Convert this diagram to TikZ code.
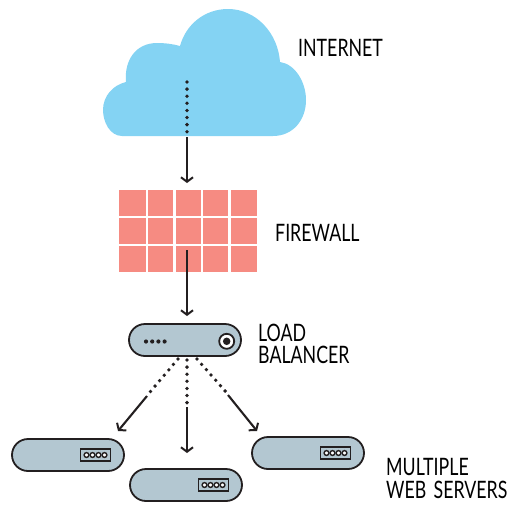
\documentclass[tikz,border=0pt]{standalone}
\usepackage{fontspec}
\setmainfont{Lato}[FakeStretch=0.74,WordSpace=1.6]
\usetikzlibrary{arrows.meta,shapes.misc}
\definecolor{cloudblue}{HTML}{84D3F3}
\definecolor{brickred}{HTML}{F68B82}
\definecolor{boxgrey}{HTML}{B3C7D1}
\definecolor{inkdark}{HTML}{231F20}
\tikzset{
    server/.style={rounded rectangle, draw=inkdark, fill=boxgrey, line width=1.8pt, minimum width=112pt, minimum height=32pt, inner sep=0pt},
    port/.style={draw=inkdark, fill=boxgrey, line width=1.6pt, minimum width=30pt, minimum height=12.5pt, inner sep=0pt},
    portdot/.style={circle, draw=inkdark, fill=white, line width=1.4pt, minimum size=4.8pt, inner sep=0pt},
    lbdot/.style={circle, fill=inkdark, minimum size=4.2pt, inner sep=0pt},
    dotline/.style={inkdark, line width=3.8pt, line cap=round, dash pattern=on 0pt off 7.1pt},
    solidline/.style={inkdark, line width=2.1pt, -{Straight Barb[length=4.5pt,width=12pt,line width=2pt]}},
    label/.style={inner sep=0pt, anchor=base west, align=left, font=\fontsize{24}{24}\selectfont, text=black}
}
\begin{document}
\begin{tikzpicture}[x=1pt,y=-1pt]
    \useasboundingbox (0,0) rectangle (516,512);

    % cloud
    \fill[cloudblue] (122,136) .. controls (110,136) and (103,122) .. (103,110)
        .. controls (103,96) and (113,85) .. (126,82)
        .. controls (124,60) and (136,43) .. (157,43)
        .. controls (165,43) and (173,44) .. (180,46)
        .. controls (186,24) and (205,9) .. (228,9)
        .. controls (256,9) and (278,33) .. (280,62)
        .. controls (295,64) and (306,82) .. (306,100)
        .. controls (306,120) and (293,136) .. (273,136) -- cycle;

    % firewall
    \foreach \bx/\bw in {119/27, 148/25.3, 175.5/25.2, 203/25.3, 230.7/26}
        \foreach \by in {190, 218, 246}
            \fill[brickred] (\bx,\by) rectangle ++(\bw,25.6);

    \coordinate (C1) at (187,82);
    \coordinate (C2) at (187,133);
    \coordinate (C3) at (187,137);
    \coordinate (C4) at (187,183);
    \coordinate (F1) at (187,250);
    \coordinate (F2) at (187,316);

    % load balancer
    \node[server] (lb) at (185,340) {};
    \node[circle, draw=inkdark, fill=white, line width=1.8pt, minimum size=15pt, inner sep=0pt] (lbring) at (226.7,341.3) {};
    \node[circle, fill=inkdark, minimum size=7.5pt, inner sep=0pt] (lbcore) at (lbring) {};
    \foreach \dx in {146,152.2,158.4,164.6}
        \node[lbdot] at (\dx,341.5) {};

    % web servers
    \foreach \name/\sx/\sy in {webleft/68/455, webmid/186/485, webright/308/453} {
        \node[server] (\name) at (\sx,\sy) {};
        \node[port] (\name port) at (\sx+27.5,\sy) {};
        \foreach \dx in {-9,-3,3,9}
            \node[portdot] at (\sx+27.5+\dx,\sy) {};
    }

    \coordinate (L1) at (178,359);
    \coordinate (L2) at (150,392);
    \coordinate (L3) at (147,396);
    \coordinate (L4) at (118,431);
    \coordinate (M1) at (187,360);
    \coordinate (M2) at (187,404);
    \coordinate (M3) at (187,407);
    \coordinate (M4) at (187,453);
    \coordinate (R1) at (197,359);
    \coordinate (R2) at (226,392);
    \coordinate (R3) at (228,395);
    \coordinate (R4) at (257,431);

    \draw[dotline] (C1) -- (C2);
    \draw[solidline] (C3) -- (C4);
    \draw[solidline] (F1) -- (F2);
    \draw[dotline] (L1) -- (L2);
    \draw[solidline] (L3) -- (L4);
    \draw[dotline] (M1) -- (M2);
    \draw[solidline] (M3) -- (M4);
    \draw[dotline] (R1) -- (R2);
    \draw[solidline] (R3) -- (R4);

    \node[label] (internet) at (298,56) {INTERNET};
    \node[label] (firewall) at (275,241) {FIREWALL};
    \node[label] (load) at (258,341) {LOAD};
    \node[label] (balancer) at (258,363) {BALANCER};
    \node[label] (multiple) at (386,475) {MULTIPLE};
    \node[label] (webservers) at (386,498) {WEB SERVERS};
\end{tikzpicture}
\end{document}
